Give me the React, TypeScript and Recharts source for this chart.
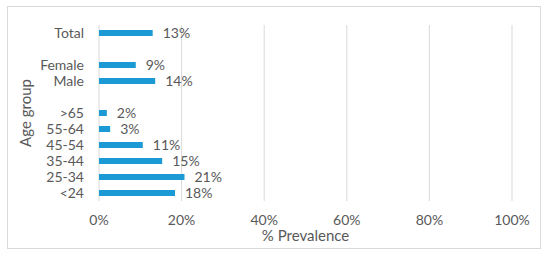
import React from "react";
import { BarChart, Bar, XAxis, YAxis, CartesianGrid, LabelList } from "recharts";

const categories = ["Total", "", "Female", "Male", " ", ">65", "55-64", "45-54", "35-44", "25-34", "<24"];
const prevalence: (number | null)[] = [13.0, null, 8.9, 13.6, null, 1.9, 2.7, 10.6, 15.3, 20.7, 18.4];
const xTicks = [0, 20, 40, 60, 80, 100];

const data = categories.map((name, i) => ({ name, value: prevalence[i] }));

const FONT = "Lato, 'Noto Sans', sans-serif";
const TEXT = "#595959";

const YTitle = (props: any) => {
  const vb = props.viewBox || {};
  const x = vb.x + 17;
  const y = vb.y + vb.height / 2;
  return (
    <text x={x} y={y} transform={`rotate(-90, ${x}, ${y})`} textAnchor="middle" dominantBaseline="central" fill={TEXT} fontSize={15} fontFamily={FONT}>
      Age group
    </text>
  );
};

const XTitle = (props: any) => {
  const vb = props.viewBox || {};
  const x = vb.x + vb.width / 2;
  const y = vb.y + 40;
  return (
    <text x={x} y={y} textAnchor="middle" fill={TEXT} fontSize={15} fontFamily={FONT}>
      % Prevalence
    </text>
  );
};

export default function App() {
  return (
    <div style={{ position: "absolute", left: 7, top: 6, width: 534, height: 243, border: "1px solid #d9d9d9", boxSizing: "border-box", background: "#fff" }}>
      <BarChart width={532} height={241} data={data} layout="vertical" margin={{ top: 18, right: 28, bottom: 0, left: 0 }}>
        <CartesianGrid horizontal={false} vertical={true} stroke="#d9d9d9" />
        <XAxis
          type="number"
          domain={[0, 100]}
          ticks={xTicks}
          tickFormatter={(v: number) => `${v}%`}
          axisLine={false}
          tickLine={false}
          tickSize={6}
          tickMargin={8}
          height={47}
          tick={{ fill: TEXT, fontSize: 14, fontFamily: FONT }}
          label={<XTitle />}
        />
        <YAxis
          type="category"
          dataKey="name"
          width={91}
          axisLine={false}
          tickLine={false}
          tickMargin={9}
          interval={0}
          tick={{ fill: TEXT, fontSize: 14, fontFamily: FONT }}
          label={<YTitle />}
        />
        <Bar dataKey="value" fill="#1b9ad6" barSize={6} isAnimationActive={false}>
          <LabelList
            dataKey="value"
            position="right"
            offset={10}
            fill={TEXT}
            fontSize={14}
            fontFamily={FONT}
            formatter={(v: any) => (v == null ? "" : `${Math.round(v)}%`)}
          />
        </Bar>
      </BarChart>
    </div>
  );
}
